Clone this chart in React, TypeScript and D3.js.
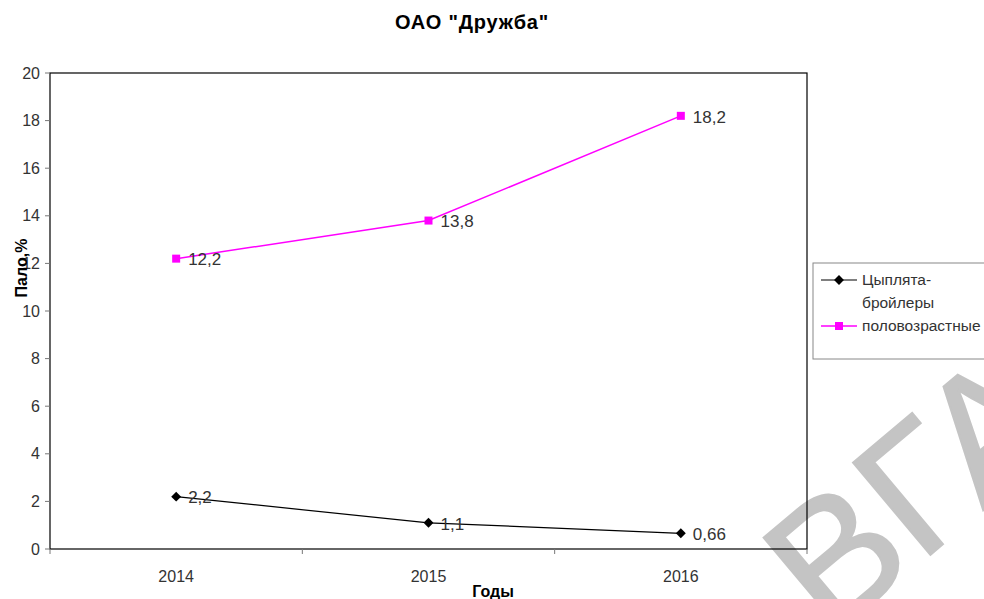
import React from "react";
import * as d3 from "d3";

const years = ["2014", "2015", "2016"];
const broilers = [2.2, 1.1, 0.66];
const adults = [12.2, 13.8, 18.2];
const broilerLabels = ["2,2", "1,1", "0,66"];
const adultLabels = ["12,2", "13,8", "18,2"];
const yTicks = [0, 2, 4, 6, 8, 10, 12, 14, 16, 18, 20];

const W = 984;
const H = 599;
const left = 50;
const right = 807;
const top = 73;
const bottom = 549;
const font = "'Liberation Sans', Arial, sans-serif";
const textColor = "#333";

const Diamond = ({ cx, cy }: { cx: number; cy: number }) => (
  <rect
    x={-3.5}
    y={-3.5}
    width={7}
    height={7}
    fill="#000"
    transform={`translate(${cx},${cy}) rotate(45)`}
  />
);

const App: React.FC = () => {
  const x = d3.scaleBand<string>().domain(years).range([left, right]).padding(0);
  const y = d3.scaleLinear().domain([0, 20]).range([bottom, top]);
  const cx = (d: string) => x(d)! + x.bandwidth() / 2;

  const line = d3
    .line<number>()
    .x((_, i) => cx(years[i]))
    .y((v) => y(v));

  return (
    <svg
      width={W}
      height={H}
      style={{ position: "absolute", left: 0, top: 0, background: "#fff" }}
      fontFamily={font}
    >
      <rect width={W} height={H} fill="#fff" />
      {/* watermark */}
      <text
        x={830}
        y={639}
        transform="rotate(-40 830 639)"
        fontSize={175}
        fill="#c4c4c4"
        stroke="#c4c4c4"
        strokeWidth={2}
        fontFamily={font}
      >
        ВГАВМ
      </text>

      <text
        x={472}
        y={29}
        textAnchor="middle"
        fontSize={20}
        letterSpacing={0.8}
        fontWeight="bold"
        fill="#000"
      >
        ОАО "Дружба"
      </text>

      {/* plot frame */}
      <rect
        x={left}
        y={top}
        width={right - left}
        height={bottom - top}
        fill="none"
        stroke="#000"
        strokeWidth={1.2}
      />

      {/* y axis ticks */}
      {yTicks.map((t) => (
        <g key={t}>
          <line x1={left - 5} x2={left} y1={y(t)} y2={y(t)} stroke="#777" />
          <text
            x={left - 10}
            y={y(t)}
            dy="0.35em"
            textAnchor="end"
            fontSize={16}
            fill={textColor}
          >
            {t}
          </text>
        </g>
      ))}

      {/* x axis ticks at category edges */}
      {years.map((d, i) => (
        <line
          key={"e" + i}
          x1={x(d)!}
          x2={x(d)!}
          y1={bottom}
          y2={bottom + 5}
          stroke="#777"
        />
      ))}
      <line x1={right} x2={right} y1={bottom} y2={bottom + 5} stroke="#777" />
      {years.map((d) => (
        <text
          key={d}
          x={cx(d)}
          y={582}
          textAnchor="middle"
          fontSize={16}
          fill={textColor}
        >
          {d}
        </text>
      ))}

      <text x={493} y={597} textAnchor="middle" fontSize={16} fontWeight="bold" fill="#000">
        Годы
      </text>
      <text
        transform="translate(27,268) rotate(-90)"
        textAnchor="middle"
        fontSize={16}
        fontWeight="bold"
        fill="#000"
      >
        Пало,%
      </text>

      {/* series: adults */}
      <path d={line(adults)!} fill="none" stroke="#ff00ff" strokeWidth={1.5} />
      {adults.map((v, i) => (
        <g key={"a" + i}>
          <rect x={cx(years[i]) - 4} y={y(v) - 4} width={8} height={8} fill="#ff00ff" />
          <text x={cx(years[i]) + 12} y={y(v)} dy="0.4em" fontSize={17} fill={textColor}>
            {adultLabels[i]}
          </text>
        </g>
      ))}

      {/* series: broilers */}
      <path d={line(broilers)!} fill="none" stroke="#000" strokeWidth={1.2} />
      {broilers.map((v, i) => (
        <g key={"b" + i}>
          <Diamond cx={cx(years[i])} cy={y(v)} />
          <text x={cx(years[i]) + 12} y={y(v)} dy="0.4em" fontSize={17} fill={textColor}>
            {broilerLabels[i]}
          </text>
        </g>
      ))}

      {/* legend */}
      <rect x={813} y={263} width={190} height={96} fill="#fff" stroke="#888" strokeWidth={1} />
      <line x1={821} x2={857} y1={280} y2={280} stroke="#000" strokeWidth={1.2} />
      <Diamond cx={839} cy={280} />
      <text x={862} y={280} dy="0.35em" fontSize={15.5} fill={textColor}>
        Цыплята-
      </text>
      <text x={862} y={303} dy="0.35em" fontSize={15.5} fill={textColor}>
        бройлеры
      </text>
      <line x1={821} x2={857} y1={326} y2={326} stroke="#ff00ff" strokeWidth={1.5} />
      <rect x={835} y={322} width={8} height={8} fill="#ff00ff" />
      <text x={862} y={326} dy="0.35em" fontSize={15.5} fill={textColor}>
        половозрастные
      </text>
    </svg>
  );
};

export default App;
